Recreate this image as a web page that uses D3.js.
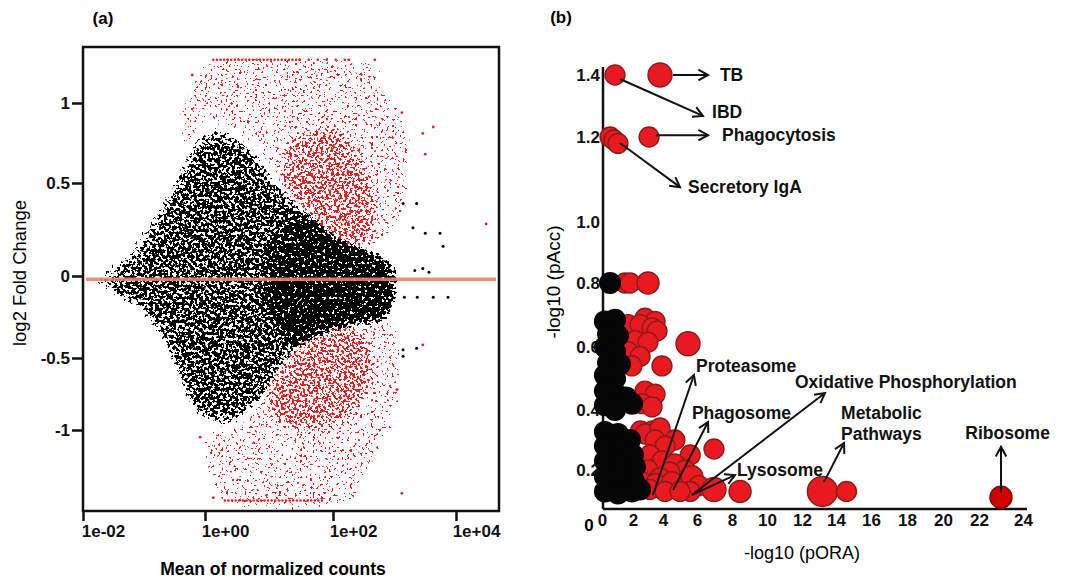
<!DOCTYPE html>
<html lang="en">
<meta charset="utf-8">
<title>MA plot and pathway bubbles</title>
<style>
  body { margin: 0; background: #fff; }
  svg { display: block; font-family: "Liberation Sans", Arial, sans-serif; }
  .bold { font-weight: bold; }
</style>
<body>
<svg id="fig" width="1075" height="581"></svg>
<script src="https://cdn.jsdelivr.net/npm/d3@7"></script>
<script>
// ---------- panel (a): log10(mean normalized count), log2 fold change ----------
var maTicks = [0.01, 1, 100, 10000];
var maTickLabels = ["1e-02", "1e+00", "1e+02", "1e+04"];
var lfcTicks = [1, 0.5, 0, -0.5, -1];
var lfcTickLabels = ["1", "0.5", "0", "-0.5", "-1"];
var baselineLfc = -0.02;

// outlines of the point cloud
var blackOuter = [[-1.92,-0.04],[-1.72,0.02],[-1.48,0.08],[-1.26,0.14],[-1.07,0.24],[-0.90,0.31],[-0.74,0.39],
  [-0.57,0.49],[-0.41,0.61],[-0.25,0.74],[-0.08,0.82],[0.08,0.85],[0.27,0.85],[0.47,0.80],[0.63,0.77],[0.94,0.61],
  [1.17,0.49],[1.41,0.41],[1.64,0.33],[1.88,0.25],[2.11,0.19],[2.36,0.17],[2.52,0.14],[2.76,0.11],[3.01,0.075],
  [3.09,-0.02],[3.01,-0.15],[2.90,-0.24],[2.60,-0.27],[2.28,-0.30],[2.0,-0.33],[1.75,-0.36],[1.48,-0.42],[1.25,-0.51],
  [1.09,-0.62],[0.89,-0.76],[0.70,-0.86],[0.55,-0.93],[0.44,-0.97],[0.23,-0.99],[0,-0.95],[-0.16,-0.90],[-0.30,-0.79],
  [-0.44,-0.65],[-0.57,-0.51],[-0.74,-0.36],[-0.90,-0.26],[-1.15,-0.16],[-1.39,-0.12],[-1.64,-0.085],[-1.85,-0.07]];
var blackMid = [[-1.39,0.005],[-0.90,0.19],[-0.49,0.435],[-0.08,0.71],[0.31,0.77],[0.70,0.68],[1.17,0.46],[1.80,0.27],
  [2.60,0.11],[2.93,0.005],[2.85,-0.21],[2.44,-0.27],[1.80,-0.38],[1.33,-0.51],[0.94,-0.78],[0.55,-0.89],[0.08,-0.89],
  [-0.25,-0.76],[-0.49,-0.51],[-0.82,-0.33],[-1.23,-0.18],[-1.56,-0.12]];
var blackCore = [[1.02,0.09],[1.25,0.24],[1.64,0.31],[2.11,0.19],[2.52,0.14],[2.85,0.075],[2.96,-0.085],[2.85,-0.26],
  [2.44,-0.29],[1.95,-0.33],[1.48,-0.41],[1.17,-0.33],[0.98,-0.15]];
var redUpper = [[-0.41,0.71],[-0.41,0.99],[-0.21,1.175],[0.16,1.28],[2.28,1.28],[2.73,1.26],[2.85,1.08],[3.12,0.96],
  [3.29,0.64],[3.25,0.41],[3.12,0.27],[2.85,0.19],[2.52,0.14],[2.36,0.17],[2.11,0.19],[1.88,0.25],[1.64,0.33],
  [1.41,0.41],[1.17,0.49],[0.94,0.61],[0.63,0.77],[0.47,0.80],[0.27,0.85],[0.08,0.85],[-0.08,0.82],[-0.25,0.74]];
var redUpperCore = [[1.33,0.71],[1.80,0.83],[2.19,0.77],[2.52,0.55],[2.63,0.35],[2.52,0.17],[2.11,0.20],[1.64,0.33],[1.33,0.43]];
var redLower = [[0.55,-0.93],[0.70,-0.86],[0.89,-0.76],[1.09,-0.62],[1.25,-0.51],[1.48,-0.42],[1.77,-0.36],[2.0,-0.33],
  [2.28,-0.30],[2.60,-0.26],[3.01,-0.28],[3.14,-0.60],[3.04,-0.90],[2.85,-1.10],[2.68,-1.24],[2.44,-1.42],[2.39,-1.50],
  [0.16,-1.50],[0.05,-1.35],[-0.03,-1.17],[-0.08,-1.05],[0.23,-0.99]];
var redLowerCore = [[1.02,-0.72],[1.25,-0.53],[1.48,-0.43],[1.95,-0.34],[2.28,-0.33],[2.52,-0.42],[2.57,-0.65],
  [2.28,-0.85],[1.80,-0.97],[1.33,-0.97],[1.05,-0.86]];
// capped rows of red points: [from log10, to log10, lfc]
var capRows = [[0.13, 1.48, 1.27], [1.48, 2.27, 1.27], [0.31, 1.83, -1.49]];
var blackStray = [[3.79,0.16],[3.5,0.23],[3.33,0.03],[3.46,0.04],[3.14,0.39],[3.3,0.26],[3.63,-0.13],[3.16,-0.13],
  [3.36,-0.44],[3.14,-0.45],[3.14,-0.49],[3.36,0.39],[3.74,0.23],[3.56,0.02],[3.87,-0.13],[3.37,-0.13]];
var redStray = [[4.49,0.28],[3.63,0.85],[3.46,0.81],[3.5,0.68],[3.12,0.94],[3.46,-0.42],[3.12,-1.44],[3.04,-0.72],
  [2.68,1.27],[2.26,1.27],[-0.21,1.175],[-0.08,-1.05],[0.13,-1.47]];

// ---------- panel (b): -log10(pORA), -log10(pAcc), bubble size ----------
var oraTicks = [0, 2, 4, 6, 8, 10, 12, 14, 16, 18, 20, 22, 24];
var accTicks = [0.2, 0.4, 0.6, 0.8, 1.0, 1.2, 1.4];
var redPathways = [[0.84,1.40,44],[3.8,1.40,64],[0.52,1.20,44],[0.77,1.193,44],[1.03,1.185,44],[3.07,1.20,44],
  [1.48,0.80,44],[1.81,0.80,44],[3.0,0.80,54],
  [2.8,0.69,44],[3.47,0.68,44],[1.68,0.67,44],[2.47,0.67,44],[3.27,0.66,44],[3.6,0.65,44],[2.13,0.62,44],
  [3.0,0.615,44],[1.68,0.585,44],[2.47,0.57,44],[1.93,0.54,44],[5.47,0.61,64],[3.93,0.54,44],
  [2.8,0.46,44],[3.47,0.45,44],[2.6,0.42,44],[3.27,0.41,44],
  [2.5,0.33,44],[3.3,0.33,44],[4.3,0.30,44],[2.8,0.32,44],[3.8,0.34,44],[3.47,0.30,44],[4.7,0.30,44],
  [4.12,0.28,44],[3.13,0.25,44],[5.6,0.25,44],[3.93,0.23,44],[4.7,0.22,44],[5.3,0.20,44],[3.0,0.20,44],
  [4.4,0.19,44],[3.8,0.16,44],[2.6,0.14,44],[3.5,0.13,44],[4.53,0.14,44],[5.7,0.165,54],
  [6.1,0.12,44],[5.6,0.09,44],[6.97,0.10,64],[3.13,0.10,44],[4.12,0.09,44],[5.0,0.09,44],[8.46,0.09,54],
  [6.97,0.27,44],[13.2,0.09,100],[14.6,0.09,44]];
var darkPathways = [[23.0,0.06,54]];
var blackPathways = [[0.52,0.80],[0.19,0.68],[0.84,0.685],[0.39,0.64],[1.03,0.635],[0.19,0.60],[0.84,0.585],
  [0.39,0.55],[1.16,0.545],[0.19,0.51],[0.84,0.50],[0.19,0.46],[0.84,0.455],[1.55,0.44],[1.94,0.42],[0.19,0.415],
  [0.84,0.40],[0.19,0.327],[1.03,0.32],[1.81,0.30],[0.19,0.28],[1.16,0.27],[2.0,0.25],[0.19,0.23],[1.16,0.22],
  [2.13,0.21],[0.19,0.165],[1.16,0.15],[2.07,0.14],[0.19,0.09],[1.03,0.08],[1.94,0.09],[2.47,0.10]];
var blackSize = 54;
var notes = [
  {text: ["TB"], from: [4.59,1.40], to: [6.63,1.40], at: [7.31,1.40]},
  {text: ["IBD"], from: [1.16,1.387], to: [6.34,1.268], at: [6.86,1.28]},
  {text: ["Phagocytosis"], from: [3.53,1.206], to: [6.63,1.206], at: [7.43,1.206]},
  {text: ["Secretory IgA"], from: [1.16,1.186], to: [5.0,1.082], at: [5.47,1.082]},
  {text: ["Proteasome"], from: [3.33,0.072], to: [5.82,0.511], at: [5.94,0.54]},
  {text: ["Phagosome"], from: [4.59,0.097], to: [6.63,0.36], at: [5.7,0.39]},
  {text: ["Oxidative Phosphorylation"], from: [5.7,0.072], to: [13.35,0.454], at: [11.6,0.49]},
  {text: ["Lysosome"], from: [5.7,0.072], to: [8.17,0.174], at: [8.29,0.20]},
  {text: ["Metabolic", "Pathways"], from: [13.29,0.138], to: [14.46,0.29], at: [14.29,0.39]},
  {text: ["Ribosome"], from: [23.0,0.082], to: [23.0,0.277], at: [23.3,0.323], mid: true}
];

var svg = d3.select("#fig");
var defs = svg.append("defs");

// speckle filter: blurred fill density + noise, thresholded into dots
function addSpeckle(id, color, seed, k1, k3, blur, freq) {
  var f = defs.append("filter").attr("id", id).attr("filterUnits", "userSpaceOnUse")
    .attr("x", 0).attr("y", 0).attr("width", 1075).attr("height", 581)
    .attr("color-interpolation-filters", "sRGB");
  f.append("feGaussianBlur").attr("in", "SourceAlpha").attr("stdDeviation", blur).attr("result", "dens");
  f.append("feTurbulence").attr("type", "fractalNoise").attr("baseFrequency", freq)
    .attr("numOctaves", 2).attr("seed", seed).attr("result", "turb");
  f.append("feColorMatrix").attr("in", "turb").attr("type", "matrix")
    .attr("values", "0 0 0 0 0  0 0 0 0 0  0 0 0 0 0  1 0 0 0 0").attr("result", "noiseA");
  f.append("feComposite").attr("in", "noiseA").attr("in2", "dens").attr("operator", "arithmetic")
    .attr("k1", k1).attr("k2", 0).attr("k3", k3).attr("k4", 0).attr("result", "v");
  f.append("feComponentTransfer").attr("in", "v").attr("result", "m")
    .append("feFuncA").attr("type", "linear").attr("slope", 20).attr("intercept", -10);
  f.append("feFlood").attr("flood-color", color).attr("result", "c");
  f.append("feComposite").attr("in", "c").attr("in2", "m").attr("operator", "in");
}
addSpeckle("speckBlack", "#000", 7, 3.5, -0.675, 5, 0.34);
addSpeckle("speckRed", "#e3201f", 21, 7.24, -2.97, 5, 0.38);

// ---------------- panel (a) ----------------
var xA = d3.scaleLog().domain([0.01, 1, 100, 10000]).range([83, 205, 333, 456]);
var yA = d3.scaleLinear().domain([-1, -0.5, 0, 0.5, 1]).range([430, 358, 276, 183, 103]);
var boxA = {x0: 83, x1: 499, y0: 47, y1: 511};
var gA = svg.append("g");

var cloud = d3.line().x(d => xA(Math.pow(10, d[0]))).y(d => yA(d[1])).curve(d3.curveCatmullRomClosed.alpha(0.5));
var blackG = gA.append("g").attr("filter", "url(#speckBlack)");
[[blackOuter, 0.4], [blackMid, 0.3], [blackCore, 0.9]].forEach(function (a) {
  blackG.append("path").attr("d", cloud(a[0])).attr("fill", "#000").attr("fill-opacity", a[1]);
});
var redG = gA.append("g").attr("filter", "url(#speckRed)");
[[redUpper, 0.3], [redUpperCore, 0.5], [redLower, 0.3], [redLowerCore, 0.5]].forEach(function (a) {
  redG.append("path").attr("d", cloud(a[0])).attr("fill", "#000").attr("fill-opacity", a[1]);
});

gA.selectAll(".cap").data(capRows).join("line")
  .attr("x1", d => xA(Math.pow(10, d[0]))).attr("x2", d => xA(Math.pow(10, d[1])))
  .attr("y1", d => yA(d[2])).attr("y2", d => yA(d[2]))
  .attr("stroke", "#e0201e").attr("stroke-width", 2.6).attr("stroke-linecap", "round")
  .attr("stroke-dasharray", (d, i) => i === 1 ? "0 9" : "0 3.6");

gA.selectAll(".bs").data(blackStray).join("circle")
  .attr("cx", d => xA(Math.pow(10, d[0]))).attr("cy", d => yA(d[1])).attr("r", 1.5).attr("fill", "#000");
gA.selectAll(".rs").data(redStray).join("circle")
  .attr("cx", d => xA(Math.pow(10, d[0]))).attr("cy", d => yA(d[1])).attr("r", 1.4).attr("fill", "#e0201e");

gA.append("line").attr("x1", boxA.x0 + 3).attr("x2", boxA.x1 - 3)
  .attr("y1", yA(baselineLfc)).attr("y2", yA(baselineLfc))
  .attr("stroke", "#ee8466").attr("stroke-width", 3.5).attr("opacity", 0.9);

gA.append("rect").attr("x", boxA.x0).attr("y", boxA.y0)
  .attr("width", boxA.x1 - boxA.x0).attr("height", boxA.y1 - boxA.y0)
  .attr("fill", "none").attr("stroke", "#111").attr("stroke-width", 2.5);

var axYA = gA.append("g").attr("transform", "translate(" + boxA.x0 + ",0)")
  .call(d3.axisLeft(yA).tickValues(lfcTicks).tickFormat((d, i) => lfcTickLabels[i]).tickSize(11).tickPadding(2));
var axXA = gA.append("g").attr("transform", "translate(0," + boxA.y1 + ")")
  .call(d3.axisBottom(xA).tickValues(maTicks).tickFormat((d, i) => maTickLabels[i]).tickSize(10).tickPadding(4));
[axYA, axXA].forEach(function (ax) {
  ax.select(".domain").remove();
  ax.selectAll(".tick line").attr("stroke", "#111").attr("stroke-width", 2.5);
  ax.selectAll(".tick text").attr("class", "bold").attr("font-size", 17).attr("fill", "#111")
    .attr("font-family", "Liberation Sans, Arial, sans-serif");
});
axXA.selectAll(".tick text").attr("dx", 20);

gA.append("text").attr("class", "bold").attr("x", 103).attr("y", 18).attr("dy", "0.35em")
  .attr("text-anchor", "middle").attr("font-size", 17).text("(a)");
gA.append("text").attr("class", "bold").attr("x", 273).attr("y", 569).attr("dy", "0.35em")
  .attr("text-anchor", "middle").attr("font-size", 17.5).text("Mean of normalized counts");
gA.append("text").attr("transform", "translate(20,273) rotate(-90)").attr("dy", "0.35em")
  .attr("text-anchor", "middle").attr("font-size", 18.5).text("log2 Fold Change");

// ---------------- panel (b) ----------------
var xB = d3.scaleLinear().domain(oraTicks).range([602, 633, 663, 697, 732, 767, 802, 836, 871, 907, 943, 979, 1023]);
var yB = d3.scaleLinear().domain([0, 0.2, 0.4, 0.6, 0.8, 1.0, 1.2, 1.4]).range([509, 470, 410, 347, 283, 222, 137, 75]);
var rB = d3.scaleSqrt().domain([0, 100]).range([0, 15]);
var gB = svg.append("g");

var axYB = gB.append("g").attr("transform", "translate(603,0)")
  .call(d3.axisLeft(yB).tickValues(accTicks).tickFormat(d3.format(".1f")).tickSize(0).tickPadding(3));
var axXB = gB.append("g").attr("transform", "translate(0,509)")
  .call(d3.axisBottom(xB).tickValues(oraTicks).tickFormat(d3.format("d")).tickSize(0).tickPadding(5));
[axYB, axXB].forEach(function (ax) {
  ax.select(".domain").remove();
  ax.selectAll(".tick text").attr("class", "bold").attr("font-size", 17).attr("fill", "#111")
    .attr("font-family", "Liberation Sans, Arial, sans-serif");
});
gB.append("text").attr("class", "bold").attr("x", 589).attr("y", 525).attr("dy", "0.35em")
  .attr("text-anchor", "middle").attr("font-size", 17).text("0");

gB.append("line").attr("x1", 603).attr("x2", 603).attr("y1", 67).attr("y2", 509)
  .attr("stroke", "#111").attr("stroke-width", 2.5);
gB.append("line").attr("x1", 603).attr("x2", 1027).attr("y1", 509).attr("y2", 509)
  .attr("stroke", "#111").attr("stroke-width", 2.5);

gB.selectAll(".red").data(redPathways).join("circle")
  .attr("cx", d => xB(d[0])).attr("cy", d => yB(d[1])).attr("r", d => rB(d[2]))
  .attr("fill", "#e8191f").attr("stroke", "#8a1c1c").attr("stroke-width", 1.4);
gB.selectAll(".blk").data(blackPathways).join("circle")
  .attr("cx", d => xB(d[0])).attr("cy", d => yB(d[1])).attr("r", rB(blackSize)).attr("fill", "#050505");
gB.selectAll(".dark").data(darkPathways).join("circle")
  .attr("cx", d => xB(d[0])).attr("cy", d => yB(d[1])).attr("r", d => rB(d[2]))
  .attr("fill", "#d00000").attr("stroke", "#7a0f0f").attr("stroke-width", 1.4);

function arrowHead(x, y, ang) {
  var L = 11, a = 0.5;
  return "M" + (x - L * Math.cos(ang - a)) + "," + (y - L * Math.sin(ang - a)) + "L" + x + "," + y +
    "L" + (x - L * Math.cos(ang + a)) + "," + (y - L * Math.sin(ang + a));
}
var noteG = gB.selectAll(".note").data(notes).join("g");
noteG.append("line")
  .attr("x1", d => xB(d.from[0])).attr("y1", d => yB(d.from[1]))
  .attr("x2", d => xB(d.to[0])).attr("y2", d => yB(d.to[1]))
  .attr("stroke", "#111").attr("stroke-width", 2);
noteG.append("path")
  .attr("d", d => arrowHead(xB(d.to[0]), yB(d.to[1]),
    Math.atan2(yB(d.to[1]) - yB(d.from[1]), xB(d.to[0]) - xB(d.from[0]))))
  .attr("fill", "none").attr("stroke", "#111").attr("stroke-width", 2);
noteG.each(function (d) {
  var t = d3.select(this).append("text").attr("class", "bold").attr("font-size", 17.5).attr("fill", "#111")
    .attr("text-anchor", d.mid ? "middle" : "start");
  d.text.forEach(function (s, i) {
    t.append("tspan").attr("x", xB(d.at[0])).attr("y", yB(d.at[1]) + i * 21).attr("dy", "0.35em").text(s);
  });
});

gB.append("text").attr("class", "bold").attr("x", 561).attr("y", 17).attr("dy", "0.35em")
  .attr("text-anchor", "middle").attr("font-size", 17).text("(b)");
gB.append("text").attr("x", 802).attr("y", 553).attr("dy", "0.35em")
  .attr("text-anchor", "middle").attr("font-size", 18).text("-log10 (pORA)");
gB.append("text").attr("transform", "translate(553,282) rotate(-90)").attr("dy", "0.35em")
  .attr("text-anchor", "middle").attr("font-size", 19).text("-log10 (pAcc)");
</script>
</body>
</html>
